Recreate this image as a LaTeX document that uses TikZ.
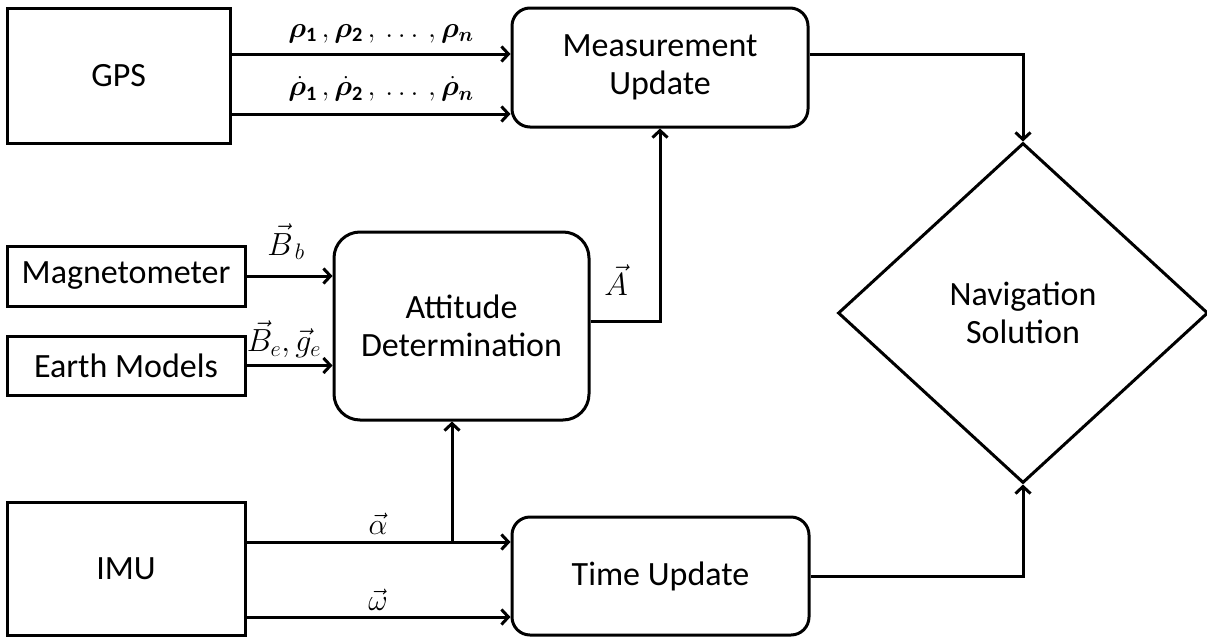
\documentclass[tikz,border=0pt]{standalone}
\usepackage{fix-cm}
\usepackage{fontspec}
\usepackage{amsmath}
\usepackage{bm}
\setmainfont{Carlito}
\usetikzlibrary{arrows.meta,shapes.geometric,calc}
\tikzset{
  lbl/.style={font=\fontsize{34}{38}\selectfont, align=center},
  sqbox/.style={draw, line width=3pt, fill=white, inner sep=0pt, lbl},
  rbox/.style={sqbox, rounded corners=18pt},
  arr/.style={line width=3pt, -{Straight Barb[length=7pt,width=15pt,line width=3pt]}},
  mlbl/.style={font=\fontsize{29}{31}\selectfont, inner sep=0pt},
  blbl/.style={font=\fontsize{32}{34}\selectfont, inner sep=0pt},
  slbl/.style={font=\fontsize{30}{32}\selectfont, inner sep=0pt}
}
\begin{document}
\begin{tikzpicture}[x=1pt,y=-1pt]
\useasboundingbox (0,0) rectangle (1207,637);
% boxes
\node[sqbox, minimum width=222.5pt, minimum height=134.5pt] (gps) at (118.75,75.75) {GPS};
\node[rbox, minimum width=296pt, minimum height=119pt] (mu) at (660,67.5) {Measurement\\Update};
\node[sqbox, minimum width=238pt, minimum height=60pt] (mag) at (126,276) {Magnetometer};
\node[sqbox, minimum width=238pt, minimum height=59pt] (earth) at (126,365.5) {Earth Models};
\node[rbox, rounded corners=26pt, minimum width=255pt, minimum height=188pt] (att) at (461.5,326) {Attitude\\Determination};
\node[sqbox, minimum width=238pt, minimum height=133pt] (imu) at (126,568.5) {IMU};
\node[rbox, minimum width=297pt, minimum height=118pt] (tu) at (660.5,576) {Time Update};
\node[draw, diamond, line width=3pt, inner sep=0pt, minimum width=370pt, minimum height=340pt, lbl] (nav) at (1023,313) {Navigation\\Solution};
% level coordinates
\coordinate (g1) at (0,54);
\coordinate (g2) at (0,114);
\coordinate (i1) at (0,542);
\coordinate (i2) at (0,617);
\coordinate (a1) at (0,321);
\coordinate (j) at (452,542);
% connectors
\draw[arr] (gps.east|-g1) -- (mu.west|-g1);
\draw[arr] (gps.east|-g2) -- (mu.west|-g2);
\draw[arr] (mag.east) -- (att.west|-mag.east);
\draw[arr] (earth.east) -- (att.west|-earth.east);
\draw[arr] (att.east|-a1) -| (mu.south);
\draw[arr] (mu.east|-g1) -| (nav.north);
\draw[arr] (imu.east|-i1) -- (tu.west|-i1);
\draw[arr] (imu.east|-i2) -- (tu.west|-i2);
\draw[arr] (j) -- (j|-att.south);
\draw[arr] (tu.east) -| (nav.south);
% labels
\node[mlbl] (lr) at (381,34) {$\bm{\rho}_{\mathbf{1}}\,,\bm{\rho}_{\mathbf{2}}\,,\,\ldots\,,\bm{\rho}_{\bm{n}}$};
\node[mlbl] (lrd) at (381,89) {$\dot{\bm{\rho}}_{\mathbf{1}}\,,\dot{\bm{\rho}}_{\mathbf{2}}\,,\,\ldots\,,\dot{\bm{\rho}}_{\bm{n}}$};
\node[blbl] (lb) at (286,242) {$\vec{B}_{\,b}$};
\node[blbl] (lbe) at (284,339) {$\vec{B}_{e},\vec{g}_{e}$};
\node[blbl] (la) at (616,280) {$\vec{A}$};
\node[slbl] (lal) at (378,524) {$\vec{\alpha}$};
\node[slbl] (lom) at (378,600) {$\vec{\omega}$};
\end{tikzpicture}
\end{document}
